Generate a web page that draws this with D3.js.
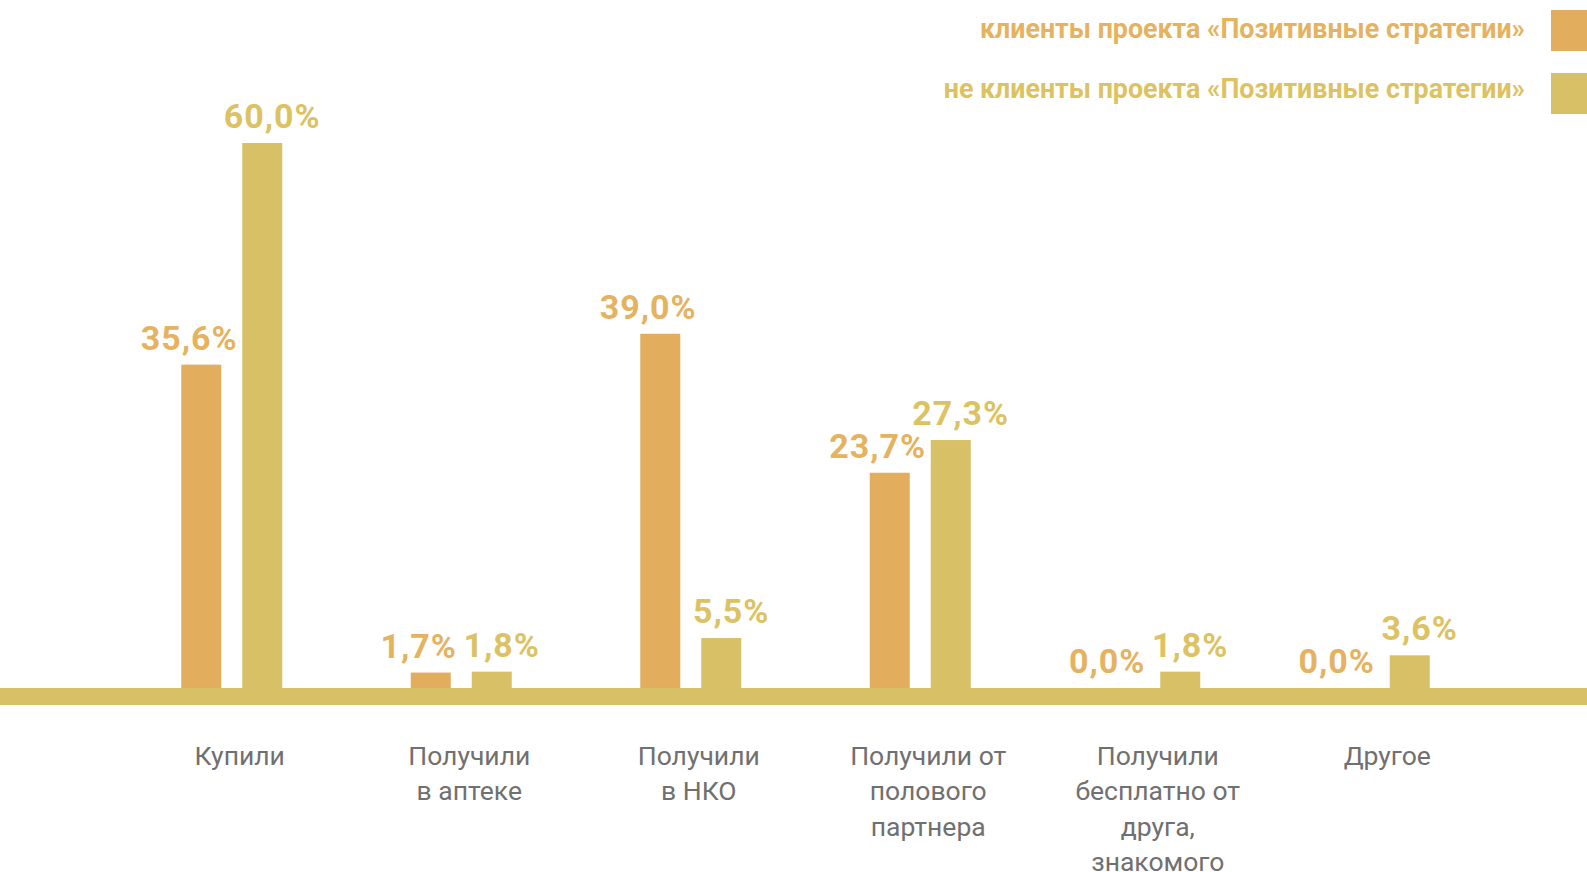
<!DOCTYPE html>
<html lang="ru">
<head>
<meta charset="utf-8">
<title>Где брали презервативы</title>
<script src="https://cdn.jsdelivr.net/npm/d3@7"></script>
<style>
  html, body { margin: 0; padding: 0; background: #ffffff; }
  svg { display: block; font-family: Roboto, "Noto Sans", "DejaVu Sans", sans-serif; }
</style>
</head>
<body>
<svg id="chart" width="1587" height="872"></svg>
<script>
// Categories (each one may wrap onto several lines)
const categories = [
  ["Купили"],
  ["Получили", "в аптеке"],
  ["Получили", "в НКО"],
  ["Получили от", "полового", "партнера"],
  ["Получили", "бесплатно от", "друга,", "знакомого"],
  ["Другое"]
];

// Series names and values, %
const seriesNames = [
  "клиенты проекта «Позитивные стратегии»",
  "не клиенты проекта «Позитивные стратегии»"
];
const clientsValues    = [35.6, 1.7, 39.0, 23.7, 0.0, 0.0];
const nonClientsValues = [60.0, 1.8, 5.5, 27.3, 1.8, 3.6];

const colors = ["#e2ae5e", "#d7c066"];
const labelColors = ["#e5b25f", "#dcc262"];

const W = 1587, H = 872;
const baseY = 688;       // top of the ground band
const bandH = 17;        // thickness of the ground band

const svg = d3.select("#chart");

const x = d3.scaleBand()
  .domain(d3.range(categories.length))
  .range([117, 1494])
  .paddingInner(0)
  .paddingOuter(0);

// position of the two bars inside a category
const sub = d3.scaleBand()
  .domain([0, 1])
  .range([-50.5, 50.5])
  .paddingInner(21 / 61)
  .paddingOuter(0);

const y = d3.scaleLinear()
  .domain([0, 60])
  .range([baseY, baseY - 545]);

const series = [clientsValues, nonClientsValues];

// bars
series.forEach((vals, s) => {
  svg.append("g")
    .selectAll("rect")
    .data(vals)
    .join("rect")
    .attr("x", (d, i) => x(i) + x.bandwidth() / 2 + sub(s))
    .attr("width", sub.bandwidth())
    .attr("y", d => y(d))
    .attr("height", d => y(0) - y(d))
    .attr("fill", colors[s]);
});

// ground band
svg.append("rect")
  .attr("x", 0)
  .attr("y", baseY)
  .attr("width", W)
  .attr("height", bandH)
  .attr("fill", colors[1]);

// value labels, pushed slightly apart within each pair
const nudge = [-12, 10];
series.forEach((vals, s) => {
  svg.append("g")
    .selectAll("text")
    .data(vals)
    .join("text")
    .attr("x", (d, i) => x(i) + x.bandwidth() / 2 + sub(s) + sub.bandwidth() / 2 + nudge[s])
    .attr("y", d => y(d) - 15)
    .attr("text-anchor", "middle")
    .attr("font-size", 34)
    .attr("font-weight", 700)
    .attr("letter-spacing", 1)
    .attr("fill", labelColors[s])
    .text(d => d3.format(".1f")(d).replace(".", ",") + "%");
});

// category labels
const catG = svg.append("g")
  .selectAll("text")
  .data(categories)
  .join("text")
  .attr("x", (d, i) => x(i) + x.bandwidth() / 2 + 8)
  .attr("y", 765)
  .attr("text-anchor", "middle")
  .attr("font-size", 26.5)
  .attr("fill", "#707070");
catG.selectAll("tspan")
  .data(d => d)
  .join("tspan")
  .attr("x", function () { return this.parentNode.getAttribute("x"); })
  .attr("dy", (d, j) => j === 0 ? 0 : 35.4)
  .text(d => d);

// legend
const legend = svg.append("g");
seriesNames.forEach((name, s) => {
  legend.append("rect")
    .attr("x", 1551)
    .attr("y", 10 + s * 63)
    .attr("width", 40)
    .attr("height", 41)
    .attr("fill", colors[s]);
  legend.append("text")
    .attr("x", 1525)
    .attr("y", 38 + s * 60)
    .attr("text-anchor", "end")
    .attr("font-size", 26.8)
    .attr("font-weight", 700)
    .attr("fill", labelColors[s])
    .text(name);
});
</script>
</body>
</html>
